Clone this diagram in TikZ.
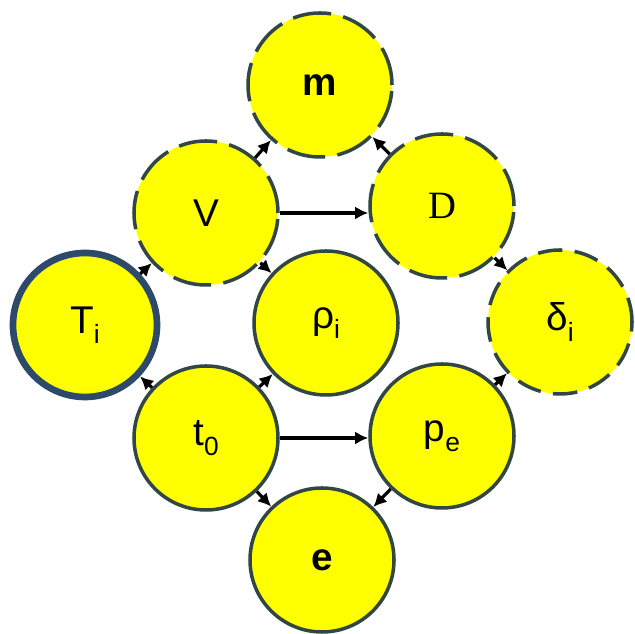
\documentclass[tikz,border=0pt]{standalone}
\usepackage{fontspec}
\setmainfont{Liberation Sans}
\newfontfamily\serifD{Liberation Serif}
\usepackage{tikz}
\usetikzlibrary{calc,arrows.meta}
\definecolor{bordgrey}{RGB}{50,70,70}
\definecolor{bordblue}{RGB}{46,74,106}
\definecolor{ballyellow}{RGB}{255,255,0}
\newcommand{\sub}[1]{\raisebox{-0.5ex}{\fontsize{15}{15}\selectfont #1}}

\begin{document}
\begin{tikzpicture}[ball/.style={circle,minimum size=2.88cm,inner sep=0pt,fill=ballyellow,draw=bordgrey,line width=2pt,font=\fontsize{22}{26}\selectfont},
                    dashball/.style={ball,dash pattern=on 22pt off 7pt},
                    link/.style={-{Latex[length=7.5pt,width=7.5pt]},line width=1.8pt,black}]
                      \useasboundingbox (0,0) rectangle (12.7,12.68);
                      % top row
                      \node[dashball] (m) at (6.40,10.98) {\textbf{m}};
                      \node[dashball] (V) at (4.12,8.42) {V};
                      \node[dashball] (D) at (8.84,8.56) {\serifD D};
                      % middle row
                      \node[ball,draw=bordblue,line width=3.8pt] (Ti) at (1.70,6.18) {T\sub{i}};
                      \node[ball] (rho) at (6.52,6.22) {ρ\sub{i}};
                      \node[dashball,dash pattern=on 14pt off 7pt] (delta) at (11.20,6.24) {δ\sub{i}};
                      % bottom rows
                      \node[ball] (t0) at (4.12,3.92) {t\sub{0}};
                      \node[ball] (pe) at (8.84,3.96) {p\sub{e}};
                      \node[ball] (e) at (6.44,1.48) {\textbf{e}};
                      % arrows
                      \draw[link] (V.east) -- (V.east -| D.west);
                      \draw[link] (t0.east) -- (t0.east -| pe.west);
                      \foreach \a/\b in {V/m,D/m,V/rho,D/delta,Ti/V,t0/Ti,t0/rho,t0/e,pe/e,pe/delta}
                      \draw[link] (\a) -- (\b);
                  \end{tikzpicture}
\end{document}
